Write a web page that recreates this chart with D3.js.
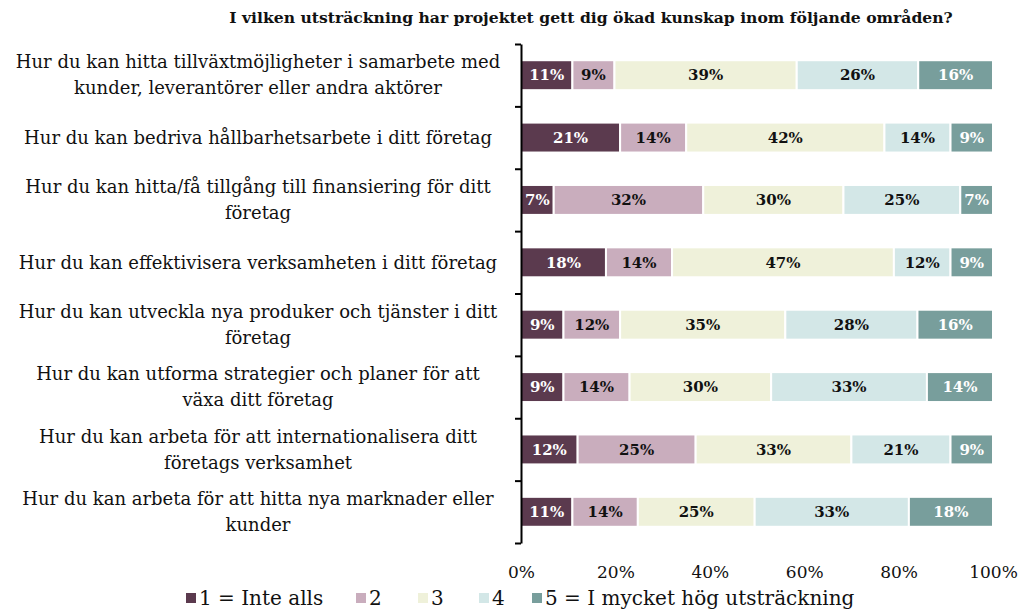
<!DOCTYPE html>
<html>
<head>
<meta charset="utf-8">
<script src="https://cdn.jsdelivr.net/npm/d3@7"></script>
<style>
  body { margin: 0; background: #fff; }
  svg text { font-family: "DejaVu Serif", "Liberation Serif", serif; }
</style>
</head>
<body>
<svg id="chart" width="1021" height="611"></svg>
<script>
const title = "I vilken utsträckning har projektet gett dig ökad kunskap inom följande områden?";

// each category label is stored as its wrapped lines
const categories = [
  ["Hur du kan hitta tillväxtmöjligheter i samarbete med", "kunder, leverantörer eller andra aktörer"],
  ["Hur du kan bedriva hållbarhetsarbete i ditt företag"],
  ["Hur du kan hitta/få tillgång till finansiering för ditt", "företag"],
  ["Hur du kan effektivisera verksamheten i ditt företag"],
  ["Hur du kan utveckla nya produker och tjänster i ditt", "företag"],
  ["Hur du kan utforma strategier och planer för att", "växa ditt företag"],
  ["Hur du kan arbeta för att internationalisera ditt", "företags verksamhet"],
  ["Hur du kan arbeta för att hitta nya marknader eller", "kunder"]
];

const seriesNames = ["1 = Inte alls", "2", "3", "4", "5 = I mycket hög utsträckning"];

// percent per category, one array per answer option
const s1 = [11, 21, 7, 18, 9, 9, 12, 11];
const s2 = [9, 14, 32, 14, 12, 14, 25, 14];
const s3 = [39, 42, 30, 47, 35, 30, 33, 25];
const s4 = [26, 14, 25, 12, 28, 33, 21, 33];
const s5 = [16, 9, 7, 9, 16, 14, 9, 18];

const xTicks = [0, 0.2, 0.4, 0.6, 0.8, 1];

const colors = ["#5b3a4e", "#c9adbd", "#eff1da", "#d3e7e7", "#789e9c"];
const labelColors = ["#fff", "#111", "#111", "#111", "#fff"];

const svg = d3.select("#chart");

const plotLeft = 521, plotRight = 993, plotTop = 44, plotBottom = 543;

const x = d3.scaleLinear().domain([0, 1]).range([plotLeft, plotRight]);
const y = d3.scaleBand()
    .domain(d3.range(categories.length))
    .range([plotTop, plotBottom])
    .paddingInner(0.52)
    .paddingOuter(0.26);

// build stacked rows, normalized to 100%
const series = [s1, s2, s3, s4, s5];
const rows = categories.map((c, i) => {
    const vals = series.map(s => s[i]);
    const total = d3.sum(vals);
    let acc = 0;
    return vals.map((v, k) => {
        const seg = { row: i, k: k, v: v, x0: acc / total, x1: (acc + v) / total };
        acc += v;
        return seg;
    });
});
const segs = rows.flat();

svg.append("text")
    .attr("x", 591)
    .attr("y", 23)
    .attr("text-anchor", "middle")
    .attr("font-weight", "bold")
    .attr("font-size", 15.6)
    .attr("fill", "#111")
    .text(title);

svg.selectAll("rect.seg")
    .data(segs)
    .enter()
    .append("rect")
    .attr("class", "seg")
    .attr("x", d => x(d.x0))
    .attr("y", d => y(d.row))
    .attr("width", d => x(d.x1) - x(d.x0))
    .attr("height", y.bandwidth())
    .attr("fill", d => colors[d.k])
    .attr("stroke", "#fff")
    .attr("stroke-width", 2);

svg.selectAll("text.val")
    .data(segs)
    .enter()
    .append("text")
    .attr("class", "val")
    .attr("x", d => (x(d.x0) + x(d.x1)) / 2)
    .attr("y", d => y(d.row) + y.bandwidth() / 2)
    .attr("dy", "0.35em")
    .attr("text-anchor", "middle")
    .attr("font-size", 15)
    .attr("font-weight", "bold")
    .attr("fill", d => labelColors[d.k])
    .text(d => d.v + "%");

// left axis with ticks between categories
const yEdge = d3.scaleLinear().domain([0, categories.length]).range([plotTop, plotBottom]);
const yAxis = svg.append("g")
    .attr("transform", `translate(${plotLeft},0)`)
    .call(d3.axisLeft(yEdge).ticks(categories.length).tickFormat("").tickSize(6).tickSizeOuter(0));
yAxis.selectAll("path, line").attr("stroke", "#000").attr("stroke-width", 2);

// category labels
const catG = svg.selectAll("text.cat")
    .data(categories)
    .enter()
    .append("text")
    .attr("class", "cat")
    .attr("text-anchor", "middle")
    .attr("font-size", 18)
    .attr("fill", "#111");
catG.each(function(lines, i) {
    const cy = y(i) + y.bandwidth() / 2;
    const lh = 26;
    const y0 = cy - (lines.length - 1) * lh / 2;
    d3.select(this).selectAll("tspan")
        .data(lines)
        .enter()
        .append("tspan")
        .attr("x", 258)
        .attr("y", (d, j) => y0 + j * lh)
        .attr("dy", "0.35em")
        .text(d => d);
});

// bottom axis
const xAxis = svg.append("g")
    .attr("transform", `translate(0,${plotBottom + 20})`)
    .call(d3.axisBottom(x).tickValues(xTicks).tickFormat(d3.format(".0%")).tickSize(0));
xAxis.select(".domain").remove();
xAxis.selectAll("text")
    .attr("font-size", 17)
    .attr("fill", "#111")
    .style("font-family", "\"DejaVu Serif\", \"Liberation Serif\", serif");

// legend
const legendX = [186, 356, 418, 479, 532];
const legend = svg.selectAll("g.leg")
    .data(seriesNames)
    .enter()
    .append("g")
    .attr("class", "leg")
    .attr("transform", (d, i) => `translate(${legendX[i]},598)`);
legend.append("rect")
    .attr("x", 0).attr("y", -5)
    .attr("width", 10).attr("height", 10)
    .attr("fill", (d, i) => colors[i]);
legend.append("text")
    .attr("x", 13)
    .attr("dy", "0.35em")
    .attr("font-size", 20)
    .attr("fill", "#111")
    .text(d => d);
</script>
</body>
</html>
